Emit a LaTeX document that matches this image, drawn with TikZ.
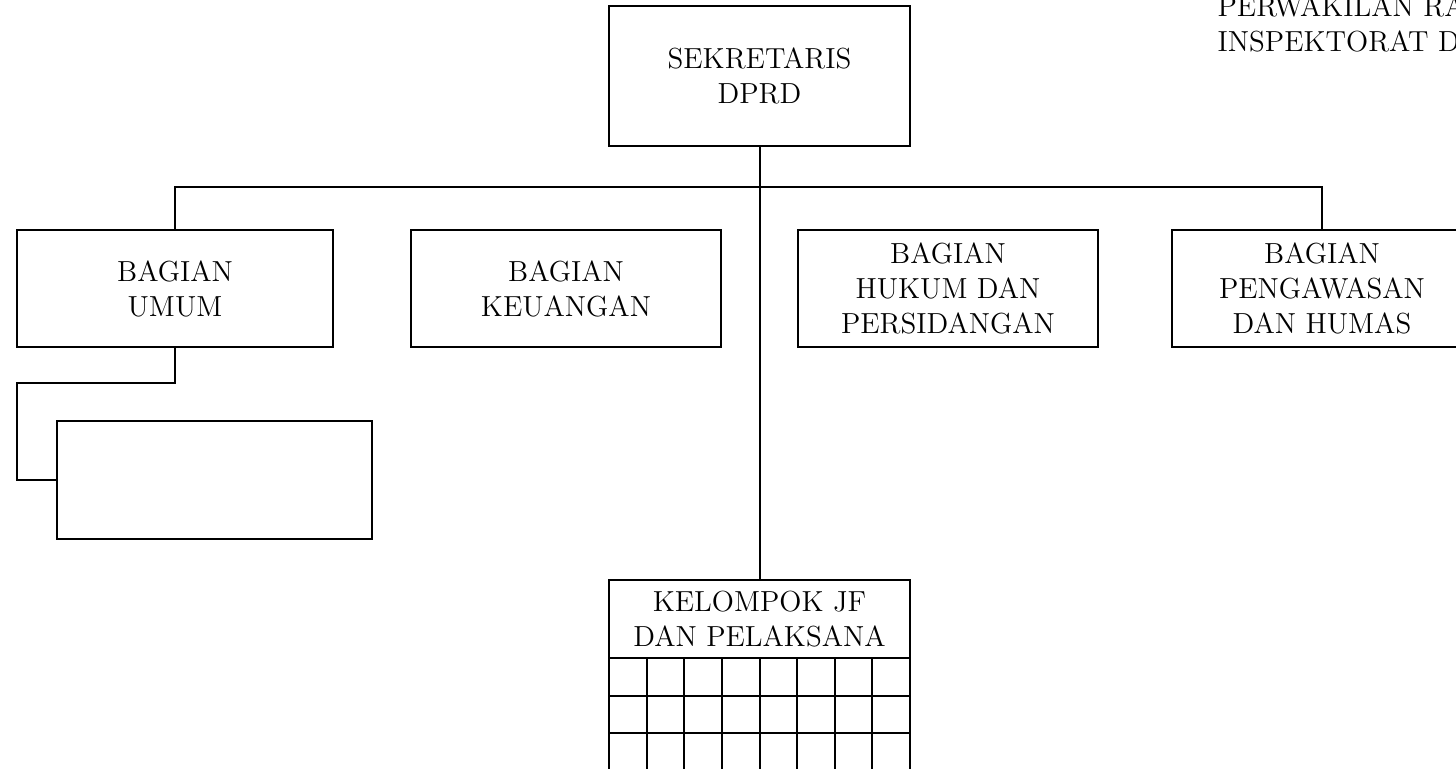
\documentclass[tikz,border=0pt]{standalone}
\begin{document}
\begin{tikzpicture}[x=0.5pt, y=-0.5pt, line width=1pt]
            \tikzstyle{unit} = [draw, rectangle, align=center, font=\fontsize{14.5}{17.5}\selectfont]
            \tikzstyle{cell} = [draw]
            \useasboundingbox (0, 0) rectangle (1456, 769);
            \clip (0, 0) rectangle (1456, 769);
            \node[unit, minimum width=150.5pt, minimum height=70pt] (sekretaris) at (759.5, 76) {SEKRETARIS\\DPRD};
            \node[unit, minimum width=158pt, minimum height=58.5pt] (umum) at (175, 288.5) {BAGIAN\\UMUM};
            \node[unit, minimum width=154.75pt, minimum height=58.5pt] (keuangan) at (566, 288.5) {BAGIAN\\KEUANGAN};
            \node[unit, minimum width=150pt, minimum height=58.5pt] (hukum) at (948, 288.5) {BAGIAN\\HUKUM DAN\\PERSIDANGAN};
            \node[unit, minimum width=150pt, minimum height=58.5pt] (pengawasan) at (1322, 288.5) {BAGIAN\\PENGAWASAN\\DAN HUMAS};
            \node[unit, minimum width=157.5pt, minimum height=59pt] (kosong) at (214.5, 480) {};
            \node[unit, minimum width=150.5pt, minimum height=39pt] (kelompok) at (759.5, 619) {KELOMPOK JF\\DAN PELAKSANA};
            \node[anchor=base west, font=\fontsize{14.5}{17.5}\selectfont] (perwakilan) at (1210, 17) {PERWAKILAN RA};
            \node[anchor=base west, font=\fontsize{14.5}{17.5}\selectfont] (inspektorat) at (1210, 52) {INSPEKTORAT D};
            \coordinate (bus) at (759.5, 187);
            \coordinate (belok) at (17, 383);
            \draw (sekretaris.south) -- (kelompok.north);
            \draw (umum.north) |- (bus) -| (pengawasan.north);
            \draw (umum.south) |- (belok) |- (kosong.west);
            \foreach \i in {0,...,7}
                \foreach \j in {0,...,2}
                    \draw[cell] (609 + 37.625*\i, 658 + 37.5*\j) rectangle ++(37.625, 37.5);
        \end{tikzpicture}
\end{document}
